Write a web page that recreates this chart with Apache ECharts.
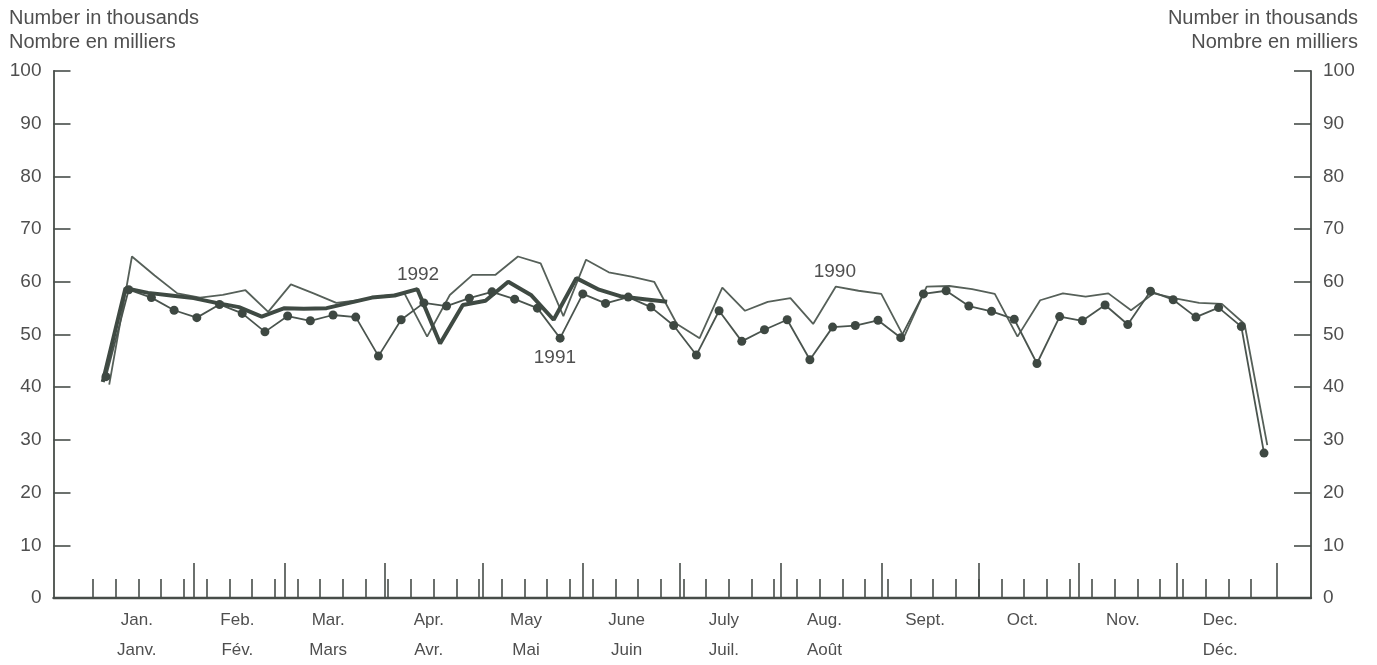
<!DOCTYPE html>
<html>
<head>
<meta charset="utf-8">
<script src="https://cdn.jsdelivr.net/npm/echarts@6/dist/echarts.min.js"></script>
<style>
html,body{margin:0;padding:0;background:#fff;}
#chart{width:1377px;height:665px;}
</style>
</head>
<body>
<div id="chart"></div>
<script>
// ---- data ----
const years = [1990, 1991, 1992];
const values1990 = [40.5, 64.8, 61.2, 57.8, 57.0, 57.5, 58.4, 54.3, 59.5, 57.8, 56.0, 56.5, 57.3, 57.8, 49.6, 57.5, 61.3, 61.3, 64.8, 63.5, 53.5, 64.2, 61.8, 61.0, 60.0, 52.0, 49.3, 58.9, 54.5, 56.2, 56.9, 52.0, 59.1, 58.3, 57.7, 49.5, 59.1, 59.2, 58.6, 57.7, 49.6, 56.5, 57.8, 57.2, 57.8, 54.6, 57.8, 56.8, 56.0, 55.8, 52.0, 29.0];
const values1991 = [42.0, 58.5, 57.0, 54.6, 53.2, 55.7, 54.0, 50.5, 53.5, 52.6, 53.7, 53.3, 45.9, 52.8, 56.0, 55.4, 56.9, 58.1, 56.7, 55.0, 49.3, 57.7, 55.9, 57.1, 55.2, 51.7, 46.1, 54.5, 48.7, 50.9, 52.8, 45.2, 51.4, 51.7, 52.7, 49.4, 57.7, 58.3, 55.4, 54.4, 52.9, 44.5, 53.4, 52.6, 55.6, 51.9, 58.2, 56.6, 53.3, 55.1, 51.5, 27.5];
const values1992 = [41.0, 58.8, 57.9, 57.4, 56.9, 56.0, 55.2, 53.4, 55.0, 54.9, 55.0, 56.0, 57.0, 57.4, 58.6, 48.3, 55.6, 56.4, 60.0, 57.5, 52.8, 60.7, 58.5, 57.2, 56.7, 56.2];
const weekEndingWeekday = 6; // Saturday
const monthsEn = ['Jan.', 'Feb.', 'Mar.', 'Apr.', 'May', 'June', 'July', 'Aug.', 'Sept.', 'Oct.', 'Nov.', 'Dec.'];
const monthsFr = ['Janv.', 'Fév.', 'Mars', 'Avr.', 'Mai', 'Juin', 'Juil.', 'Août', '', '', '', 'Déc.'];
const monthStartDays = [0, 31, 59, 90, 120, 151, 181, 212, 243, 273, 304, 334, 365];

// ---- helpers ----
function dayOfYear(d) { return monthStartDays[d.getMonth()] + d.getDate() - 1; }
function weeklySeries(year, vals) {
  const jan1 = new Date(year, 0, 1);
  const firstDay = 1 + ((weekEndingWeekday - jan1.getDay() + 7) % 7);
  return vals.map((v, i) => [dayOfYear(new Date(year, 0, firstDay + 7 * i)), v]);
}
const weekTicks = [];
for (let k = 0; k <= 51; k++) weekTicks.push(7 * k);
const monthTicks = monthStartDays.slice(1);
const labelPos = monthStartDays.slice(0, 12).map(s => s + 13.5);
function monthLabel(v) {
  let m = 0;
  for (let i = 0; i < 12; i++) if (v >= monthStartDays[i]) m = i;
  return monthsFr[m] ? monthsEn[m] + '\n' + monthsFr[m] : monthsEn[m];
}

const X_MIN = -12.18, X_MAX = 375.48;
const AX = '#474d49';
const TXT = '#4f4f4f';
const FONT = '"Liberation Sans", Arial, sans-serif';

const chart = echarts.init(document.getElementById('chart'), null, {renderer: 'canvas'});
const yAxisCommon = {
  type: 'value', min: 0, max: 100, interval: 10,
  axisLine: {show: true, onZero: false, lineStyle: {color: AX, width: 1.8}},
  axisTick: {show: true, inside: true, length: 17, lineStyle: {color: AX, width: 1.6}},
  splitLine: {show: false},
  axisLabel: {fontSize: 19, color: TXT, fontFamily: FONT, margin: 12}
};
const headerStyle = {fontSize: 20, fill: TXT, fontFamily: FONT};
const option = {
  animation: false,
  backgroundColor: '#ffffff',
  grid: {left: 53.5, right: 66, top: 71, bottom: 67, outerBoundsMode: 'none'},
  xAxis: [
    {
      type: 'value', min: X_MIN, max: X_MAX, position: 'bottom',
      axisLine: {show: true, onZero: false, lineStyle: {color: AX, width: 2.4}},
      axisTick: {show: true, inside: true, length: 19, customValues: weekTicks, lineStyle: {color: AX, width: 1.6}},
      axisLabel: {show: true, customValues: labelPos, formatter: monthLabel, fontSize: 17, lineHeight: 30, color: TXT, fontFamily: FONT, margin: 7},
      splitLine: {show: false}
    },
    {
      type: 'value', min: X_MIN, max: X_MAX, position: 'bottom', gridIndex: 0,
      axisLine: {show: false, onZero: false},
      axisTick: {show: true, inside: true, length: 35, customValues: monthTicks, lineStyle: {color: AX, width: 1.6}},
      axisLabel: {show: false},
      splitLine: {show: false}
    }
  ],
  yAxis: [
    Object.assign({}, yAxisCommon, {position: 'left'}),
    Object.assign({}, yAxisCommon, {position: 'right'})
  ],
  series: [
    {
      name: String(years[0]), type: 'line', xAxisIndex: 0, yAxisIndex: 0,
      data: weeklySeries(years[0], values1990),
      showSymbol: false, symbol: 'none',
      lineStyle: {color: '#566059', width: 1.8},
      markPoint: {symbol: 'circle', symbolSize: 0, data: [{coord: [228.7, 61.9]}],
        label: {show: true, formatter: String(years[0]), fontSize: 19, color: TXT, fontFamily: FONT}}
    },
    {
      name: String(years[1]), type: 'line', xAxisIndex: 0, yAxisIndex: 0,
      data: weeklySeries(years[1], values1991),
      symbol: 'circle', symbolSize: 9, showSymbol: true,
      itemStyle: {color: '#3e4842'},
      lineStyle: {color: '#4a544e', width: 1.8},
      markPoint: {symbol: 'circle', symbolSize: 0, data: [{coord: [142.4, 45.5]}],
        label: {show: true, formatter: String(years[1]), fontSize: 19, color: TXT, fontFamily: FONT}}
    },
    {
      name: String(years[2]), type: 'line', xAxisIndex: 0, yAxisIndex: 0,
      data: weeklySeries(years[2], values1992),
      showSymbol: false, symbol: 'none',
      lineStyle: {color: '#3f4a43', width: 4},
      markPoint: {symbol: 'circle', symbolSize: 0, data: [{coord: [100.2, 61.3]}],
        label: {show: true, formatter: String(years[2]), fontSize: 19, color: TXT, fontFamily: FONT}}
    }
  ],
  graphic: [
    {type: 'text', left: 9, top: 8, style: Object.assign({text: 'Number in thousands'}, headerStyle)},
    {type: 'text', left: 9, top: 32, style: Object.assign({text: 'Nombre en milliers'}, headerStyle)},
    {type: 'text', right: 19, top: 8, style: Object.assign({text: 'Number in thousands'}, headerStyle)},
    {type: 'text', right: 19, top: 32, style: Object.assign({text: 'Nombre en milliers'}, headerStyle)}
  ]
};
chart.setOption(option);
</script>
</body>
</html>
